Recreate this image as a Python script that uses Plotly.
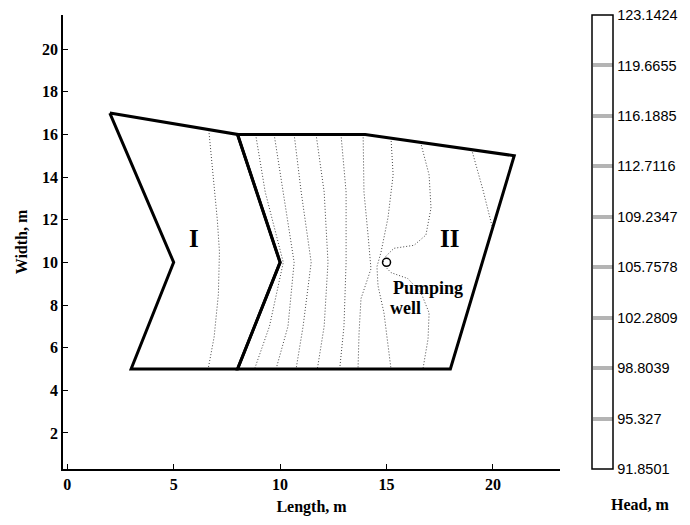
import plotly.graph_objects as go

# ---------------- data ----------------
# Domain outlines (metres)
zone1_x = [2, 8, 10, 8, 3, 5, 2]
zone1_y = [17, 16, 10, 5, 5, 10, 17]
zone2_x = [8, 14, 21, 18, 8, 10, 8]
zone2_y = [16, 16, 15, 5, 5, 10, 16]

# Head contour lines (traced)
contours = [
    ([6.65, 6.85, 7.05, 7.15, 7.10, 6.90, 6.62], [16.2, 14.0, 12.0, 10.5, 8.5, 6.5, 5.0]),
    ([8.85, 9.30, 10.15, 9.50, 8.80], [16.0, 13.3, 10.0, 7.0, 5.0]),
    ([9.72, 10.14, 10.66, 10.37, 9.81], [16.0, 13.3, 10.0, 7.0, 5.0]),
    ([10.66, 10.99, 11.46, 11.08, 10.75], [16.0, 13.3, 10.0, 7.0, 5.0]),
    ([11.69, 12.07, 12.25, 12.07, 11.75], [16.0, 13.3, 10.0, 7.0, 5.0]),
    ([12.86, 13.10, 13.10, 13.00, 12.80], [16.0, 13.3, 10.0, 7.0, 5.0]),
    ([13.90, 13.94, 14.13, 14.27, 13.80, 13.71, 13.66], [16.0, 13.3, 11.3, 9.7, 8.3, 6.7, 5.0]),
    ([15.21, 15.31, 15.07, 14.74, 14.55, 14.60, 14.88, 15.21],
     [15.83, 14.1, 12.1, 10.47, 9.8, 8.9, 7.63, 5.0]),
    ([16.60, 17.00, 17.09, 16.85, 16.29, 15.35, 14.98, 14.80, 15.21, 16.00, 16.62, 17.00, 16.95, 16.71],
     [15.63, 14.1, 12.55, 11.28, 10.8, 10.66, 10.3, 9.95, 9.52, 9.24, 8.58, 7.63, 6.4, 5.0]),
    ([19.00, 19.53, 19.97], [15.29, 13.4, 11.65]),
]

well_x = [15.0]
well_y = [10.0]

head_ticks = [91.8501, 95.327, 98.8039, 102.2809, 105.7578,
              109.2347, 112.7116, 116.1885, 119.6655, 123.1424]
head_labels = ["91.8501", "95.327", "98.8039", "102.2809", "105.7578",
               "109.2347", "112.7116", "116.1885", "119.6655", "123.1424"]

x_ticks = [0, 5, 10, 15, 20]
y_ticks = [2, 4, 6, 8, 10, 12, 14, 16, 18, 20]

# ---------------- figure ----------------
SERIF = "Liberation Serif"
fig = go.Figure()

for cx, cy in contours:
    fig.add_trace(go.Scatter(x=cx, y=cy, mode="lines",
                             line=dict(color="#444444", width=1, dash="1px,2px"),
                             hoverinfo="skip", showlegend=False))

fig.add_trace(go.Scatter(x=zone2_x, y=zone2_y, mode="lines",
                         line=dict(color="black", width=3),
                         hoverinfo="skip", showlegend=False))
fig.add_trace(go.Scatter(x=zone1_x, y=zone1_y, mode="lines",
                         line=dict(color="black", width=3),
                         hoverinfo="skip", showlegend=False))

fig.add_trace(go.Scatter(x=well_x, y=well_y, mode="markers",
                         marker=dict(symbol="circle-open", size=8, color="black",
                                     line=dict(width=1.5)),
                         hoverinfo="skip", showlegend=False))

# colour bar (white bar with hatched tick bands)
fig.add_trace(go.Scatter(
    x=[None], y=[None], mode="markers",
    marker=dict(color=[head_ticks[0]], cmin=head_ticks[0] - 1e-6, cmax=head_ticks[-1] + 1e-6,
                colorscale=[[0, "white"], [1, "white"]], showscale=True,
                colorbar=dict(
                    x=1.0644, xanchor="left", xpad=0, ypad=0,
                    y=0.5, yanchor="middle", len=1, lenmode="fraction",
                    thickness=21, outlinecolor="black", outlinewidth=1.5,
                    tickvals=head_ticks, ticktext=head_labels,
                    ticks="inside", ticklen=20, tickwidth=4, tickcolor="#b4b4b4",
                    ticklabeloverflow="allow",
                    tickfont=dict(family="Liberation Sans", size=14.5, color="black"),
                )),
    hoverinfo="skip", showlegend=False))

annot_font = dict(family=SERIF, color="black", weight="bold")
fig.add_annotation(x=5.95, y=11.14, text="I", showarrow=False,
                   font=dict(size=25, **annot_font))
fig.add_annotation(x=17.95, y=11.14, text="II", showarrow=False,
                   font=dict(size=25, **annot_font))
fig.add_annotation(x=15.2, y=8.8, text="Pumping", showarrow=False, xanchor="left",
                   font=dict(size=18, **annot_font))
fig.add_annotation(x=15.05, y=7.86, text="well", showarrow=False, xanchor="left",
                   font=dict(size=18, **annot_font))
fig.add_annotation(xref="paper", yref="paper", x=1.161, y=-0.079,
                   xanchor="center", yanchor="middle",
                   text="Head, m", showarrow=False,
                   font=dict(size=16, **annot_font))

fig.update_layout(
    width=690, height=525,
    margin=dict(l=55, r=138, t=7, b=64, autoexpand=False),
    plot_bgcolor="white", paper_bgcolor="white",
    xaxis=dict(range=[-0.2, 23.15], tickvals=x_ticks, ticks="inside", ticklen=5,
               tickcolor="black", showline=True, linecolor="black", linewidth=1.5,
               showgrid=False, zeroline=False,
               tickfont=dict(family=SERIF, size=16, color="black", weight="bold"),
               title=dict(text="Length, m", standoff=9,
                          font=dict(family=SERIF, size=16, color="black", weight="bold"))),
    yaxis=dict(range=[0.31, 21.6], tickvals=y_ticks, ticks="inside", ticklen=5,
               tickcolor="black", showline=True, linecolor="black", linewidth=1.5,
               showgrid=False, zeroline=False,
               tickfont=dict(family=SERIF, size=16, color="black", weight="bold"),
               title=dict(text="Width, m", standoff=10,
                          font=dict(family=SERIF, size=16, color="black", weight="bold"))),
)

fig.write_html("out.html")
